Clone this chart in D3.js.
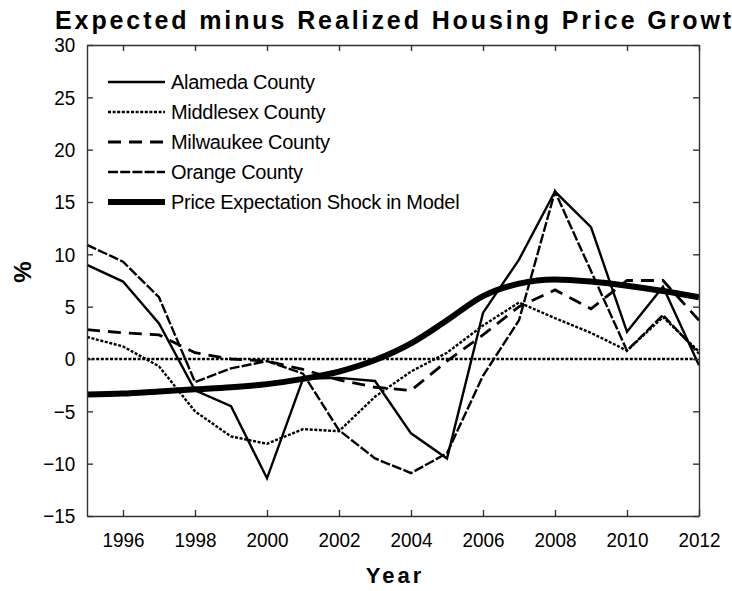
<!DOCTYPE html>
<html>
<head>
<meta charset="utf-8">
<script src="https://cdn.jsdelivr.net/npm/d3@7"></script>
<style>
    body { margin: 0; background: #fff; }
    svg { display: block; font-family: "Liberation Sans", Arial, sans-serif; }
</style>
</head>
<body>
<div id="chart"></div>
<script>
// Data
const years = [1995, 1996, 1997, 1998, 1999, 2000, 2001, 2002, 2003, 2004, 2005, 2006, 2007, 2008, 2009, 2010, 2011, 2012];
const alameda = [9.0, 7.4, 3.4, -3.0, -4.5, -11.4, -1.9, -1.8, -2.1, -7.1, -9.5, 4.4, 9.5, 16.0, 12.6, 2.6, 6.9, -0.6];
const middlesex = [2.1, 1.2, -0.7, -5.0, -7.4, -8.1, -6.7, -6.9, -3.6, -1.2, 0.6, 3.2, 5.4, 3.9, 2.5, 0.8, 4.0, 0.7];
const milwaukee = [2.8, 2.5, 2.3, 0.6, 0.0, -0.2, -1.0, -2.0, -2.7, -3.0, -0.2, 2.3, 5.0, 6.6, 4.8, 7.5, 7.5, 3.7];
const orange = [10.9, 9.3, 5.9, -2.2, -0.9, -0.2, -1.4, -6.8, -9.5, -10.9, -9.0, -1.6, 3.7, 16.0, 8.4, 0.8, 4.2, 0.5];
const modelShock = [-3.4, -3.3, -3.1, -2.9, -2.7, -2.4, -1.9, -1.2, -0.1, 1.5, 3.7, 6.0, 7.2, 7.6, 7.4, 7.0, 6.5, 5.9];
const seriesNames = ['Alameda County', 'Middlesex County', 'Milwaukee County', 'Orange County', 'Price Expectation Shock in Model'];
const xTickYears = [1996, 1998, 2000, 2002, 2004, 2006, 2008, 2010, 2012];
const yTickValues = [-15, -10, -5, 0, 5, 10, 15, 20, 25, 30];

const fullWidth = 732
const fullHeight = 591
const margin = { top: 45, right: 33, bottom: 75, left: 87 }
const width = fullWidth - margin.left - margin.right
const height = fullHeight - margin.top - margin.bottom

const svgRoot = d3.select('#chart')
    .append('svg')
    .attr('width', fullWidth)
    .attr('height', fullHeight);

const svg = svgRoot.append('g')
    .attr('transform', `translate(${margin.left}, ${margin.top})`);

const x = d3.scaleLinear().domain([1995, 2012]).range([0, width]);
const y = d3.scaleLinear().domain([-15, 30]).range([height, 0]);

// series styles (legend order)
const series = [
    { name: seriesNames[0], values: alameda, width: 2.4, dash: null, curve: d3.curveLinear },
    { name: seriesNames[1], values: middlesex, width: 2.4, dash: '3,1.6', curve: d3.curveLinear },
    { name: seriesNames[2], values: milwaukee, width: 2.8, dash: '13,8', curve: d3.curveLinear },
    { name: seriesNames[3], values: orange, width: 2.4, dash: '10,2.2', curve: d3.curveLinear },
    { name: seriesNames[4], values: modelShock, width: 6, dash: null, curve: d3.curveMonotoneX }
];

// zero line
svg.append('line')
    .attr('x1', 0).attr('x2', width)
    .attr('y1', y(0)).attr('y2', y(0))
    .attr('stroke', '#000')
    .attr('stroke-width', 2.4)
    .attr('stroke-dasharray', '3,1.6');

// lines
svg.append('g')
    .selectAll('path')
    .data(series)
    .enter()
    .append('path')
    .attr('fill', 'none')
    .attr('stroke', '#000')
    .attr('stroke-width', d => d.width)
    .attr('stroke-dasharray', d => d.dash)
    .attr('stroke-linejoin', 'miter')
    .attr('d', d => d3.line()
        .x((v, i) => x(years[i]))
        .y(v => y(v))
        .curve(d.curve)(d.values));

// axes, ticks pointing inward
function styleAxis(g) {
    g.select('.domain').attr('stroke', '#333').attr('stroke-width', 1.4);
    g.selectAll('.tick line').attr('stroke', '#333').attr('stroke-width', 1.4);
    g.selectAll('.tick text')
        .attr('fill', '#000')
        .style('font-size', '21px')
        .attr('transform', 'scale(0.9,1)');
}

svg.append('g')
    .attr('transform', `translate(0, ${height})`)
    .call(d3.axisBottom(x).tickValues(xTickYears).tickFormat(d3.format('d'))
        .tickSizeInner(-6).tickSizeOuter(0).tickPadding(16))
    .call(styleAxis);

svg.append('g')
    .call(d3.axisTop(x).tickValues(xTickYears).tickFormat('')
        .tickSizeInner(-6).tickSizeOuter(0))
    .call(styleAxis);

svg.append('g')
    .call(d3.axisLeft(y).tickValues(yTickValues)
        .tickSizeInner(-6).tickSizeOuter(0).tickPadding(13))
    .call(styleAxis);

svg.append('g')
    .attr('transform', `translate(${width}, 0)`)
    .call(d3.axisRight(y).tickValues(yTickValues).tickFormat('')
        .tickSizeInner(-6).tickSizeOuter(0))
    .call(styleAxis);

// Legend
const legend = svg.selectAll('.legend')
    .data(series)
    .enter()
    .append('g')
    .attr('class', 'legend')
    .attr('transform', (d, i) => `translate(21, ${37 + i * 30})`);

legend.append('line')
    .attr('x1', 0).attr('x2', 57)
    .attr('stroke', '#000')
    .attr('stroke-width', d => d.width)
    .attr('stroke-dasharray', d => d.dash);

legend.append('text')
    .attr('x', 63)
    .attr('dy', '0.35em')
    .style('font-size', '20px')
    .style('letter-spacing', '-0.3px')
    .text(d => d.name);

// Titles
svgRoot.append('text')
    .attr('x', 55)
    .attr('y', 29)
    .style('font-size', '25px')
    .style('font-weight', 'bold')
    .style('letter-spacing', '2.9px')
    .text('Expected minus Realized Housing Price Growth');

svgRoot.append('text')
    .attr('transform', 'translate(31, 272) rotate(-90)')
    .attr('text-anchor', 'middle')
    .style('font-size', '24px')
    .style('font-weight', 'bold')
    .text('%');

svgRoot.append('text')
    .attr('x', margin.left + width / 2 + 2)
    .attr('y', 583)
    .attr('text-anchor', 'middle')
    .style('font-size', '22px')
    .style('font-weight', 'bold')
    .style('letter-spacing', '3px')
    .text('Year');
</script>
</body>
</html>
